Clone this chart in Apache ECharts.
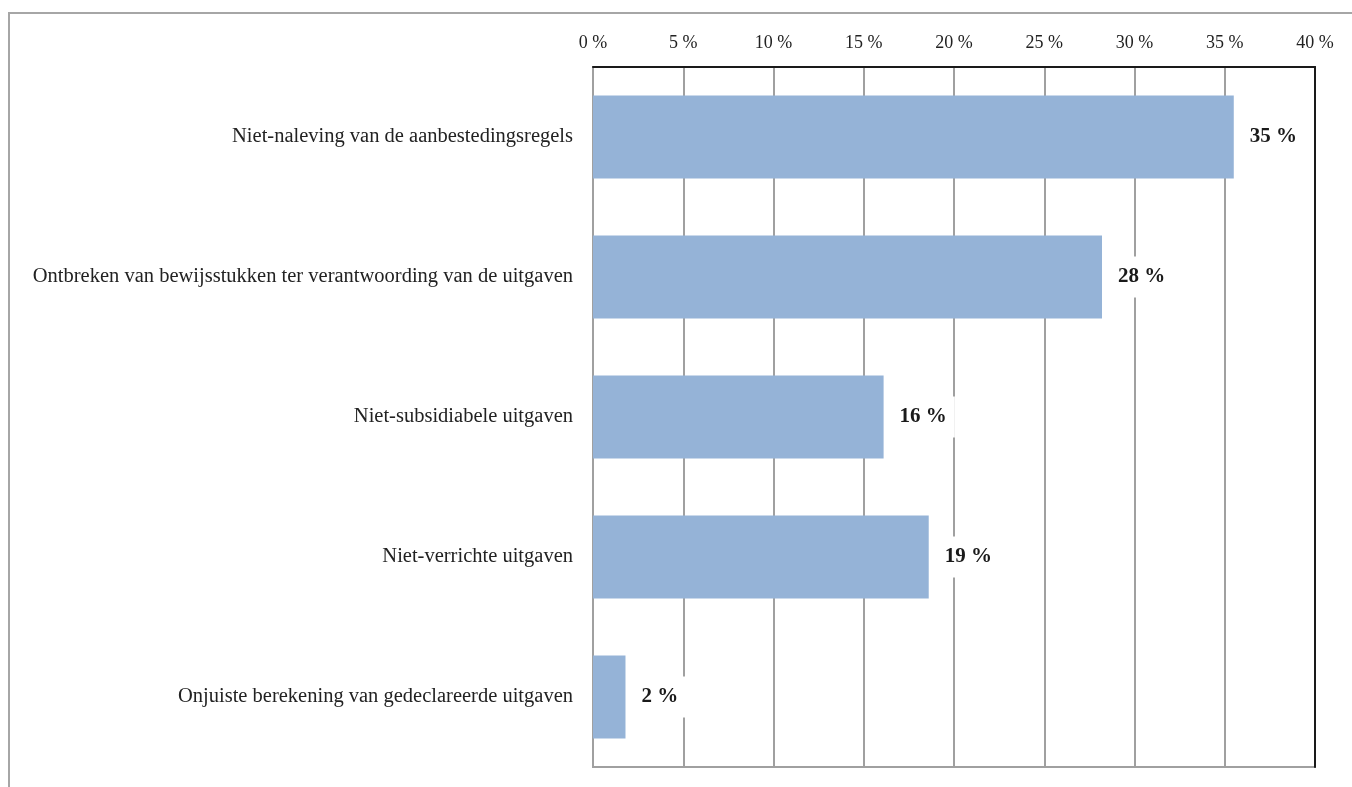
<!DOCTYPE html>
<html>
<head>
<meta charset="utf-8">
<script src="https://cdn.jsdelivr.net/npm/echarts@6/dist/echarts.min.js"></script>
<style>
html,body{margin:0;padding:0;background:#fff;}
#chart{width:1352px;height:787px;}
</style>
</head>
<body>
<div id="chart"></div>
<script>
var categories = [
  'Niet-naleving van de aanbestedingsregels',
  'Ontbreken van bewijsstukken ter verantwoording van de uitgaven',
  'Niet-subsidiabele uitgaven',
  'Niet-verrichte uitgaven',
  'Onjuiste berekening van gedeclareerde uitgaven'
];
var values = [35.5, 28.2, 16.1, 18.6, 1.8];
var valueLabels = ['35 %', '28 %', '16 %', '19 %', '2 %'];
var tickMin = 0, tickMax = 40, tickStep = 5;

var chart = echarts.init(document.getElementById('chart'));
var font = '"Liberation Serif", "DejaVu Serif", serif';
chart.setOption({
  animation: false,
  backgroundColor: '#fff',
  graphic: [{
    type: 'rect',
    shape: {x: 9, y: 13, width: 1400, height: 800},
    style: {fill: 'none', stroke: '#a6a6a6', lineWidth: 2},
    silent: true
  }],
  grid: {left: 593, right: 37, top: 67, bottom: 20, show: true, borderColor: '#a0a0a0', borderWidth: 2, backgroundColor: 'transparent'},
  xAxis: {
    type: 'value', position: 'top', min: tickMin, max: tickMax, interval: tickStep,
    axisLine: {show: true, lineStyle: {color: '#1a1a1a', width: 2}},
    axisTick: {show: false},
    axisLabel: {color: '#222', fontFamily: font, fontSize: 18, margin: 15,
      formatter: function(v){ return v + ' %'; }},
    splitLine: {show: true, lineStyle: {color: '#a0a0a0', width: 2}}
  },
  yAxis: [{
    type: 'category', data: categories, inverse: true,
    axisLine: {show: true, lineStyle: {color: '#a0a0a0', width: 2}},
    axisTick: {show: false},
    axisLabel: {color: '#222', fontFamily: font, fontSize: 20.5, margin: 20, padding: [5, 0, 0, 0]}
  }, {
    type: 'category', data: categories, inverse: true, position: 'right',
    axisLine: {show: true, lineStyle: {color: '#1a1a1a', width: 2}},
    axisTick: {show: false},
    axisLabel: {show: false}
  }],
  series: [{
    type: 'bar',
    data: values,
    barWidth: 83,
    itemStyle: {color: '#95b3d7'},
    label: {
      show: true, position: 'right', distance: 8,
      formatter: function(p){ return valueLabels[p.dataIndex]; },
      fontFamily: font, fontSize: 21, fontWeight: 'bold', color: '#1a1a1a',
      backgroundColor: '#fff', padding: [12, 8, 8, 8]
    }
  }]
});
</script>
</body>
</html>
